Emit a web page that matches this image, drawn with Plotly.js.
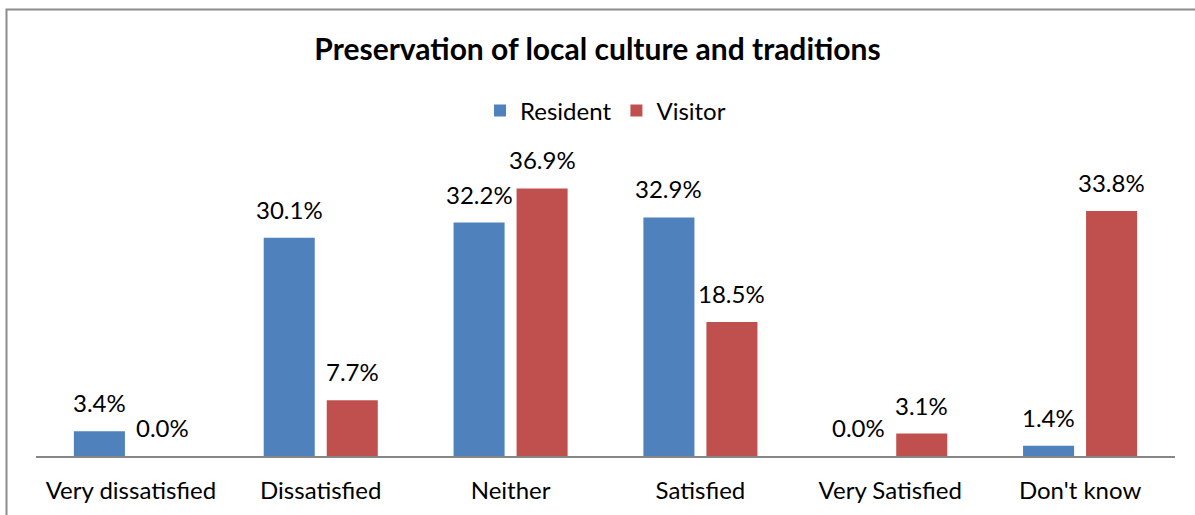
<!DOCTYPE html>
<html>
<head>
<meta charset="utf-8">
<script src="https://cdn.plot.ly/plotly-3.0.1.min.js"></script>
<style>
html,body{margin:0;padding:0;background:#fff;}
#chart{width:1195px;height:515px;}
</style>
</head>
<body>
<div id="chart"></div>
<script>
const categories = ["Very dissatisfied", "Dissatisfied", "Neither", "Satisfied", "Very Satisfied", "Don't know"];
const residentValues = [3.4, 30.1, 32.2, 32.9, 0.0, 1.4];
const visitorValues = [0.0, 7.7, 36.9, 18.5, 3.1, 33.8];
const seriesNames = ["Resident", "Visitor"];
const chartTitle = "Preservation of local culture and traditions";

const FONT = "Lato, 'Open Sans', sans-serif";

function fmt(v){ return v.toFixed(1) + "%"; }

const traces = [
  {
    type: "bar", name: seriesNames[0], x: categories, y: residentValues,
    marker: {color: "#4F81BD"},
    hoverinfo: "x+y"
  },
  {
    type: "bar", name: seriesNames[1], x: categories, y: visitorValues,
    marker: {color: "#C0504D"},
    hoverinfo: "x+y"
  }
];

const GROUP_OFFSET = 31.5;
const annotations = [];
[residentValues, visitorValues].forEach(function(vals, si){
  vals.forEach(function(v, i){
    annotations.push({
      x: categories[i], y: v, xref: "x", yref: "y",
      text: fmt(v), showarrow: false,
      xanchor: "center", yanchor: "bottom",
      xshift: si === 0 ? -GROUP_OFFSET : GROUP_OFFSET,
      yshift: 12,
      font: {family: FONT, size: 24, color: "#000"}
    });
  });
});

const layout = {
  width: 1195, height: 515,
  margin: {l: 36, r: 20, t: 166, b: 59},
  paper_bgcolor: "#fff", plot_bgcolor: "#fff",
  font: {family: FONT, size: 24, color: "#000"},
  title: {
    text: "<b>" + chartTitle + "</b>",
    font: {family: FONT, size: 30, color: "#000"},
    x: 0.5, xanchor: "center", y: 0.903, yanchor: "middle"
  },
  showlegend: true,
  legend: {
    orientation: "h", x: 0.5, xanchor: "center", y: 1.19, yanchor: "middle",
    font: {family: FONT, size: 24, color: "#000"},
    traceorder: "normal"
  },
  barmode: "group",
  bargap: 0.336,
  bargroupgap: 0.19,
  xaxis: {
    showline: true, linecolor: "#868686", linewidth: 2,
    ticks: "", showgrid: false, zeroline: false,
    tickfont: {family: FONT, size: 24, color: "#000"},
    ticklabelstandoff: 12,
    fixedrange: true
  },
  yaxis: {
    range: [0, 40], visible: false, showgrid: false, zeroline: false, fixedrange: true
  },
  annotations: annotations,
  shapes: [{
    type: "rect", xref: "paper", yref: "paper",
    x0: -0.0259, x1: 1.03, y0: -0.25, y1: 1.5397,
    line: {color: "#8C8C8C", width: 2}, fillcolor: "rgba(0,0,0,0)", layer: "below"
  }]
};

Plotly.newPlot("chart", traces, layout, {displayModeBar: false, staticPlot: true});
</script>
</body>
</html>
